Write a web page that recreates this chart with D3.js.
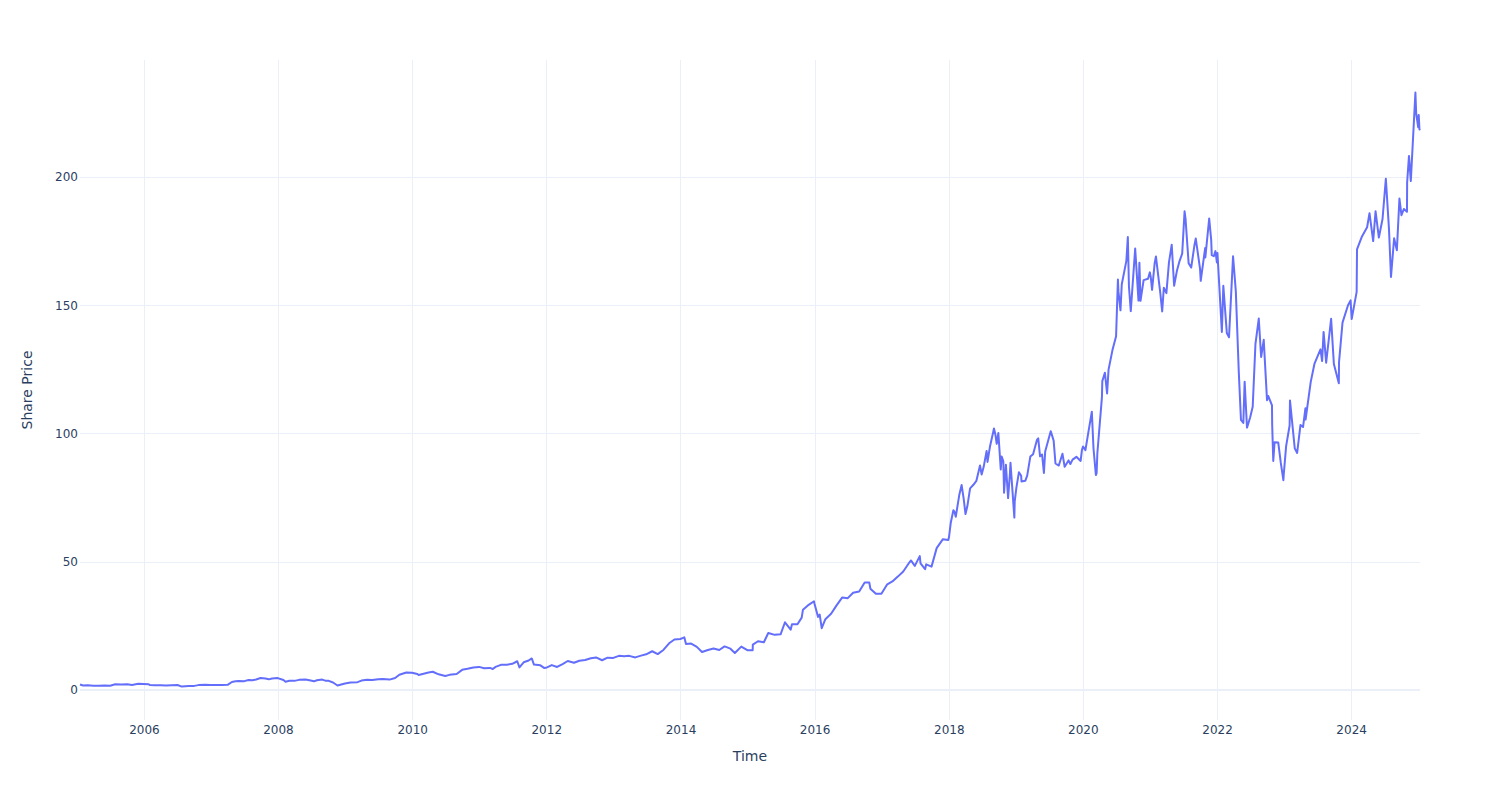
<!DOCTYPE html>
<html>
<head>
<meta charset="utf-8">
<script src="https://cdn.jsdelivr.net/npm/d3@7/dist/d3.min.js"></script>
<style>
  html, body { margin: 0; padding: 0; background: #fff; }
  svg { display: block; font-family: "DejaVu Sans", Verdana, sans-serif; }
</style>
</head>
<body>
<svg id="chart" width="1500" height="800"></svg>
<script>
// ---- data ----
const dates = [
"2005-01-18","2005-02-04","2005-03-01","2005-04-01","2005-04-29","2005-06-01","2005-07-01","2005-07-29","2005-09-01","2005-10-03","2005-10-28","2005-12-01","2005-12-30",
"2006-01-27","2006-02-03","2006-03-01","2006-04-03","2006-05-01","2006-06-01","2006-07-03","2006-07-26","2006-08-15","2006-09-01","2006-10-02","2006-10-25","2006-12-01","2006-12-29",
"2007-02-01","2007-03-01","2007-04-02","2007-04-25","2007-05-15","2007-06-01","2007-07-02","2007-07-25","2007-08-16","2007-09-04","2007-09-28","2007-10-25","2007-11-12","2007-11-30","2007-12-31",
"2008-01-31","2008-02-11","2008-03-03","2008-03-31","2008-04-25","2008-05-30","2008-06-27","2008-07-15","2008-07-31","2008-08-29","2008-09-15","2008-09-30","2008-10-27","2008-11-20","2008-12-31",
"2009-01-30","2009-03-09","2009-03-31","2009-04-30","2009-05-29","2009-06-30","2009-07-24","2009-08-31","2009-09-30","2009-10-23","2009-11-30","2009-12-31",
"2010-01-29","2010-02-05","2010-03-31","2010-04-23","2010-05-25","2010-06-30","2010-07-23","2010-08-31","2010-09-30","2010-10-29","2010-11-30","2010-12-31",
"2011-01-28","2011-02-28","2011-03-16","2011-03-31","2011-04-29","2011-05-31","2011-06-30","2011-07-27","2011-08-08","2011-08-31","2011-09-27","2011-10-14","2011-10-26","2011-11-30","2011-12-20","2011-12-30",
"2012-01-31","2012-02-29","2012-03-30","2012-04-27","2012-05-31","2012-06-29","2012-07-31","2012-08-31","2012-09-28","2012-10-31","2012-11-30","2012-12-31",
"2013-01-31","2013-02-28","2013-03-28","2013-04-30","2013-05-31","2013-06-28","2013-07-31","2013-08-30","2013-09-30","2013-10-31","2013-11-29","2013-12-31",
"2014-01-22","2014-01-31","2014-02-28","2014-03-31","2014-04-28","2014-05-30","2014-06-30","2014-07-31","2014-08-29","2014-09-30","2014-10-24","2014-11-28","2014-12-31",
"2015-01-29","2015-01-30","2015-02-27","2015-03-31","2015-04-24","2015-05-29","2015-06-30","2015-07-24","2015-08-24","2015-08-31","2015-09-30","2015-10-23","2015-10-30","2015-11-30","2015-12-29","2015-12-31",
"2016-01-20","2016-01-29","2016-02-09","2016-02-29","2016-03-31","2016-04-29","2016-05-31","2016-06-30","2016-07-29","2016-08-31","2016-09-30","2016-10-25","2016-10-31","2016-11-30","2016-12-30",
"2017-01-31","2017-02-28","2017-03-31","2017-04-28","2017-05-31","2017-06-09","2017-06-30","2017-07-27","2017-07-31","2017-08-25","2017-08-31","2017-09-29","2017-10-27","2017-11-30","2017-12-29",
"2018-01-02","2018-01-12","2018-01-26","2018-02-01","2018-02-08","2018-02-27","2018-03-12","2018-03-23","2018-04-02","2018-04-12","2018-04-27","2018-05-15","2018-05-31","2018-06-20","2018-06-29","2018-07-10","2018-07-26","2018-07-31","2018-08-13","2018-08-31","2018-09-04","2018-09-12","2018-09-19","2018-09-28","2018-10-11","2018-10-16","2018-10-25","2018-10-29","2018-11-08","2018-11-20","2018-11-30","2018-12-03","2018-12-24","2018-12-26",
"2019-01-04","2019-01-18","2019-01-30","2019-02-01","2019-02-22","2019-03-04","2019-03-21","2019-04-05","2019-04-26","2019-05-03","2019-05-13","2019-05-24","2019-06-03","2019-06-10","2019-07-10","2019-07-26","2019-08-05","2019-08-23","2019-09-12","2019-09-24","2019-10-15","2019-10-25","2019-11-06","2019-11-27","2019-12-20","2019-12-27",
"2020-01-02","2020-01-15","2020-01-31","2020-02-19","2020-02-28","2020-03-12","2020-03-16","2020-03-20","2020-04-14","2020-04-16","2020-04-30","2020-05-12","2020-05-20","2020-06-10","2020-06-30","2020-07-10","2020-07-13","2020-07-24","2020-07-31","2020-08-25","2020-09-02","2020-09-08","2020-09-18","2020-10-12","2020-10-30","2020-11-04","2020-11-10","2020-11-27","2020-12-21","2020-12-31",
"2021-01-05","2021-01-12","2021-01-26","2021-02-02","2021-02-26","2021-03-08","2021-03-17","2021-03-31","2021-04-14","2021-04-29","2021-05-12","2021-05-27","2021-06-11","2021-06-25","2021-07-08","2021-07-13","2021-07-30","2021-08-13","2021-08-31","2021-09-07","2021-09-30","2021-10-04","2021-10-28","2021-10-29","2021-11-19","2021-11-30","2021-12-03","2021-12-14","2021-12-23","2021-12-31",
"2022-01-03","2022-01-27","2022-02-04","2022-02-23","2022-03-07","2022-03-29","2022-04-13","2022-04-29","2022-05-11","2022-05-24","2022-05-31","2022-06-13","2022-06-30","2022-07-14","2022-07-29","2022-08-16","2022-08-29","2022-09-12","2022-09-30","2022-10-07","2022-10-27","2022-10-28","2022-11-03","2022-11-10","2022-11-30","2022-12-14","2022-12-28","2022-12-30",
"2023-01-12","2023-01-31","2023-02-02","2023-02-28","2023-03-13","2023-03-31","2023-04-14","2023-04-27","2023-04-28","2023-05-26","2023-06-15","2023-07-18","2023-07-27","2023-08-04","2023-08-18","2023-09-14","2023-09-29","2023-10-26","2023-10-27","2023-11-15","2023-12-15","2023-12-29",
"2024-01-04","2024-01-31","2024-02-02","2024-02-29","2024-03-28","2024-04-10","2024-04-30","2024-05-13","2024-05-31","2024-06-20","2024-07-08","2024-07-25","2024-08-05","2024-08-22","2024-09-06","2024-09-20","2024-10-01","2024-10-14","2024-10-31","2024-11-01","2024-11-11","2024-11-21","2024-12-16","2024-12-20","2024-12-31",
"2025-01-03","2025-01-07","2025-01-10"
];
const prices = [
2.15,1.75,1.80,1.70,1.63,1.75,1.68,2.25,2.12,2.25,1.97,2.42,2.36,
2.24,1.90,1.84,1.80,1.75,1.87,1.95,1.32,1.45,1.51,1.60,1.90,2.00,1.97,
1.90,1.95,2.00,3.12,3.40,3.48,3.45,3.90,3.82,4.10,4.66,4.45,4.15,4.50,4.63,
3.89,3.25,3.60,3.56,3.95,4.08,3.66,3.38,3.80,4.05,3.65,3.64,2.92,1.75,2.56,
2.94,3.05,3.67,4.03,3.90,4.18,4.25,4.05,4.67,5.92,6.80,6.73,
6.26,5.86,6.79,7.10,6.10,5.46,5.90,6.24,7.85,8.25,8.75,9.00,
8.50,8.60,8.20,9.00,9.80,9.85,10.20,11.20,8.80,10.80,11.50,12.30,9.90,9.60,8.60,8.65,
9.70,8.97,10.10,11.30,10.60,11.40,11.70,12.40,12.70,11.60,12.60,12.50,
13.30,13.20,13.30,12.70,13.40,13.90,15.10,14.00,15.60,18.20,19.70,19.90,
20.50,17.90,18.10,16.80,14.80,15.60,16.20,15.60,17.00,16.10,14.40,16.90,15.50,
15.50,17.70,19.00,18.60,22.20,21.50,21.70,26.40,23.50,25.60,25.60,28.20,31.30,33.20,34.60,33.80,
28.50,29.40,24.10,27.60,29.70,32.90,36.10,35.80,37.90,38.40,41.90,41.90,39.50,37.50,37.50,
41.20,42.30,44.30,46.20,49.70,50.50,48.40,52.20,49.40,47.10,49.00,48.10,55.30,58.80,58.50,
59.5,65.3,70.1,69.5,67.5,76.0,79.9,74.6,68.6,71.6,78.6,80.0,81.5,87.5,84.0,87.0,93.2,88.9,94.8,100.6,101.98,99.5,96.0,100.2,86.0,91.0,89.1,76.9,87.8,74.8,84.5,88.6,67.2,73.5,
78.8,84.9,83.5,81.3,81.6,83.6,91.0,91.9,97.5,98.1,91.1,91.8,84.6,93.0,100.9,97.2,88.3,87.5,92.1,87.0,89.5,88.1,89.8,90.9,89.3,93.5,
94.9,93.5,100.4,108.5,94.2,83.8,84.5,92.3,114.2,120.4,123.7,115.6,124.9,132.4,137.9,160.0,155.2,148.0,158.2,167.3,176.6,157.4,147.7,172.1,151.8,166.6,151.7,159.8,160.3,162.8,
160.9,156.0,166.3,169.0,154.6,147.6,156.8,154.7,166.7,173.6,157.6,163.3,167.3,170.1,186.6,183.9,166.4,164.7,173.5,176.0,164.3,159.5,172.3,168.6,183.8,175.4,169.5,169.1,171.1,166.7,
170.4,139.6,157.6,139.2,137.5,169.1,155.5,124.3,105.3,104.1,120.2,102.3,106.2,110.4,134.95,144.8,129.8,136.5,113.0,114.6,110.96,103.4,89.3,96.6,96.5,88.5,81.8,84.0,
95.1,103.1,112.9,94.2,92.4,103.3,102.5,109.8,105.45,120.1,127.1,132.8,128.25,139.6,127.6,144.7,127.1,119.6,127.7,143.2,149.97,151.9,
144.6,155.2,171.8,176.8,180.4,185.9,175.0,186.6,176.4,183.6,199.3,179.85,161.0,176.1,171.4,191.6,185.1,187.5,186.4,197.9,208.2,198.4,232.9,224.9,219.4,
224.2,218.5,218.9
];
const yTickValues = [0, 50, 100, 150, 200];
const yRange = [-11.7, 245.6];
const xTitle = "Time";
const yTitle = "Share Price";

// ---- layout ----
const W = 1500, H = 800;
const margin = { top: 60, right: 80, bottom: 80, left: 80 };
const plotW = W - margin.left - margin.right;
const plotH = H - margin.top - margin.bottom;

const parse = d3.utcParse("%Y-%m-%d");
const data = dates.map((d, i) => ({ date: parse(d), value: prices[i] }));

const x = d3.scaleUtc()
  .domain(d3.extent(data, d => d.date))
  .range([margin.left, margin.left + plotW]);

const y = d3.scaleLinear()
  .domain(yRange)
  .range([margin.top + plotH, margin.top]);

const svg = d3.select("#chart");
svg.append("rect").attr("width", W).attr("height", H).attr("fill", "#fff");

const gridColor = "#EBF0F8";
const textColor = "#2a3f5f";
const font = '"DejaVu Sans", Verdana, sans-serif';

// vertical grid
const xTicks = x.ticks(d3.utcYear.every(2));
svg.append("g").selectAll("line").data(xTicks).join("line")
  .attr("x1", d => Math.round(x(d)) + 0.5).attr("x2", d => Math.round(x(d)) + 0.5)
  .attr("y1", margin.top).attr("y2", margin.top + plotH)
  .attr("stroke", gridColor).attr("stroke-width", 1);

// horizontal grid
svg.append("g").selectAll("line").data(yTickValues.filter(v => v !== 0)).join("line")
  .attr("x1", margin.left).attr("x2", margin.left + plotW)
  .attr("y1", d => Math.round(y(d)) + 0.5).attr("y2", d => Math.round(y(d)) + 0.5)
  .attr("stroke", gridColor).attr("stroke-width", 1);

// zero line
svg.append("line")
  .attr("x1", margin.left).attr("x2", margin.left + plotW)
  .attr("y1", y(0)).attr("y2", y(0))
  .attr("stroke", gridColor).attr("stroke-width", 2);

// axes (labels only)
const xAxis = d3.axisBottom(x).tickValues(xTicks).tickFormat(d3.utcFormat("%Y")).tickSize(0).tickPadding(5);
const gx = svg.append("g").attr("transform", `translate(0,${margin.top + plotH})`).call(xAxis);
gx.select(".domain").remove();
gx.selectAll("text").attr("fill", textColor).style("font-size", "12px").style("font-family", font);

const yAxis = d3.axisLeft(y).tickValues(yTickValues).tickSize(0).tickPadding(2);
const gy = svg.append("g").attr("transform", `translate(${margin.left},0)`).call(yAxis);
gy.select(".domain").remove();
gy.selectAll("text").attr("fill", textColor).style("font-size", "12px").style("font-family", font);

// line
const line = d3.line().x(d => x(d.date)).y(d => y(d.value));
svg.append("path").datum(data)
  .attr("d", line)
  .attr("fill", "none")
  .attr("stroke", "#636efa")
  .attr("stroke-width", 2)
  .attr("stroke-linejoin", "round");

// titles
svg.append("text").text(xTitle)
  .attr("x", margin.left + plotW / 2).attr("y", 761)
  .attr("text-anchor", "middle").attr("fill", textColor)
  .style("font-size", "14px").style("font-family", font);

svg.append("text").text(yTitle)
  .attr("transform", `translate(32,${margin.top + plotH / 2}) rotate(-90)`)
  .attr("text-anchor", "middle").attr("fill", textColor)
  .style("font-size", "14px").style("font-family", font);
</script>
</body>
</html>
